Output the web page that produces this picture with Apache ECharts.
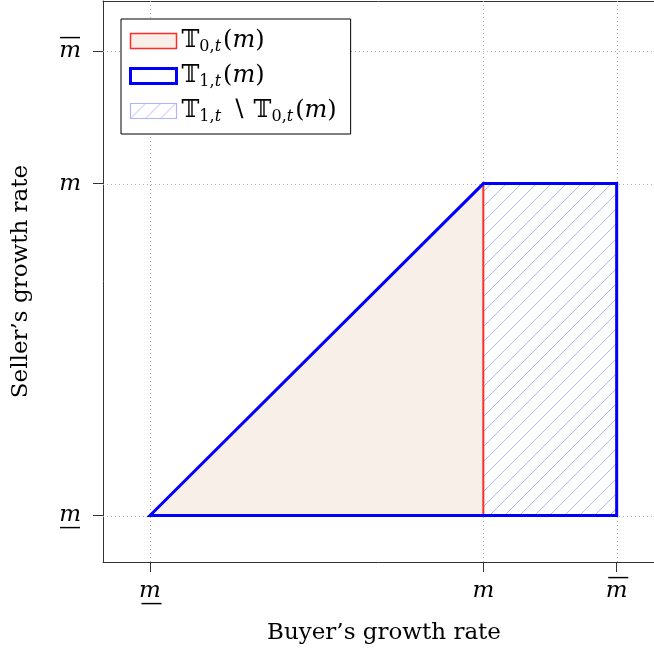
<!DOCTYPE html>
<html><head><meta charset="utf-8">
<script src="https://cdn.jsdelivr.net/npm/echarts@6/dist/echarts.min.js"></script>
<style>html,body{margin:0;padding:0;background:#fff}#c{width:654px;height:653px}</style>
</head><body><div id="c"></div>
<script>
// ---- data ----
const tickValues = [0, 1, 1.4];
const tickLabels = ['m', 'm', 'm'];
const tickMarks = ['under', 'none', 'over'];
const t0Points = [[0, 0], [1, 1], [1, 0]];
const t1Points = [[0, 0], [1, 1], [1.4, 1], [1.4, 0]];
const diffPoints = [[1, 0], [1.4, 0], [1.4, 1], [1, 1]];
const xName = 'Buyer\u2019s growth rate';
const yName = 'Seller\u2019s growth rate';

// hatch pattern
const pc = document.createElement('canvas');
pc.width = 15; pc.height = 15;
const g = pc.getContext('2d');
g.strokeStyle = '#b2b6ff'; g.lineWidth = 1;
g.beginPath();
g.moveTo(-1, 16); g.lineTo(16, -1);
g.stroke();
const hatch = { image: pc, repeat: 'repeat' };

const nameFont = '"DejaVu Serif", "Liberation Serif", serif';
const mathFont = '"DejaVu Serif", "DejaVu Sans", serif';

function polySeries(name, pts, style, z) {
  return {
    type: 'custom', name: name, z: z,
    data: pts, silent: true,
    itemStyle: { color: style.fill === 'none' ? 'rgba(0,0,0,0)' : style.fill, borderColor: style.stroke, borderWidth: style.lineWidth },
    renderItem: function (params, api) {
      if (params.dataIndex !== 0) return null;
      const p = pts.map(d => api.coord(d));
      return { type: 'polygon', shape: { points: p }, style: Object.assign({}, style, { lineJoin: 'miter' }) };
    }
  };
}

function gridSeries(vertical) {
  return {
    type: 'custom', z: 1, silent: true,
    data: tickValues.map(v => vertical ? [v, 0] : [0, v]),
    renderItem: function (params, api) {
      const cs = params.coordSys;
      const pt = api.coord([api.value(0), api.value(1)]);
      const x = Math.round(pt[0]) + 0.5, y = Math.round(pt[1]) + 0.5;
      const shape = vertical
        ? { x1: x, y1: cs.y, x2: x, y2: cs.y + cs.height }
        : { x1: cs.x, y1: y, x2: cs.x + cs.width, y2: y };
      return { type: 'line', shape: shape, style: { stroke: '#b0b0b0', lineWidth: 1, lineDash: [1, 3] } };
    }
  };
}

const labelRich = {
  m: { fontFamily: mathFont, fontStyle: 'italic', fontSize: 23, color: '#000', lineHeight: 20 },
  bar: { fontFamily: mathFont, fontSize: 22, color: '#000', lineHeight: 6, padding: [0, 0, 0, 3] },
  sp: { fontSize: 6, lineHeight: 6 }
};
function tickFormatter(v) {
  const i = tickValues.indexOf(v);
  const m = '{m|' + tickLabels[i] + '}';
  if (tickMarks[i] === 'over') return '{bar|\u2014}\n' + m + '\n{sp| }';
  if (tickMarks[i] === 'under') return '{sp| }\n' + m + '\n{bar|\u2014}';
  return '{sp| }\n' + m + '\n{sp| }';
}

const legendRich = {
  T: { fontFamily: mathFont, fontSize: 24, color: '#000', lineHeight: 28 },
  s: { fontFamily: mathFont, fontSize: 16, color: '#000', verticalAlign: 'bottom', lineHeight: 18 },
  st: { fontFamily: mathFont, fontStyle: 'italic', fontSize: 16, color: '#000', verticalAlign: 'bottom', lineHeight: 18, padding: [0, 2, 0, 0] },
  n: { fontFamily: mathFont, fontSize: 24, color: '#000', lineHeight: 28 },
  i: { fontFamily: mathFont, fontStyle: 'italic', fontSize: 24, color: '#000', lineHeight: 28 }
};
const legendText = {
  T0: '{T|\uD835\uDD4B}{s|0,}{st|t}{n|(}{i|m}{n|)}',
  T1: '{T|\uD835\uDD4B}{s|1,}{st|t}{n|(}{i|m}{n|)}',
  T1m0: '{T|\uD835\uDD4B}{s|1,}{st|t}{n| \u2216 }{T|\uD835\uDD4B}{s|0,}{st|t}{n|(}{i|m}{n|)}'
};

const chart = echarts.init(document.getElementById('c'), null, { renderer: 'canvas' });
chart.setOption({
  animation: false,
  backgroundColor: '#fff',
  grid: { left: 103, top: 1, width: 552, height: 561, show: false },
  xAxis: [{
    type: 'value', min: -0.141, max: 1.512,
    name: xName, nameLocation: 'middle', nameGap: 60,
    nameTextStyle: { fontFamily: nameFont, fontSize: 23, color: '#000', padding: [0, 0, 0, 11] },
    axisLine: { show: true, onZero: false, lineStyle: { color: '#333', width: 1 } },
    axisTick: { show: true, customValues: tickValues, length: 10, lineStyle: { color: '#333' } },
    axisLabel: { customValues: tickValues, margin: 13, formatter: tickFormatter, rich: labelRich },
    splitLine: { show: false }
  }, {
    type: 'value', position: 'top', min: -0.141, max: 1.512,
    axisLine: { show: true, onZero: false, lineStyle: { color: '#333', width: 1 } },
    axisTick: { show: false }, axisLabel: { show: false }, splitLine: { show: false }
  }],
  yAxis: {
    type: 'value', min: -0.14, max: 1.55,
    name: yName, nameLocation: 'middle', nameGap: 70,
    nameTextStyle: { fontFamily: nameFont, fontSize: 23, color: '#000' },
    axisLine: { show: true, onZero: false, lineStyle: { color: '#333', width: 1 } },
    axisTick: { show: true, customValues: tickValues, length: 10, lineStyle: { color: '#333' } },
    axisLabel: { customValues: tickValues, margin: 22, formatter: tickFormatter, rich: labelRich },
    splitLine: { show: false }
  },
  legend: {
    orient: 'vertical', left: 121, top: 19,
    backgroundColor: '#fff', borderColor: '#000', borderWidth: 1, borderRadius: 0,
    padding: [8, 14, 9, 8], itemGap: 7, itemWidth: 46, itemHeight: 15, icon: 'rect',
    selectedMode: false, z: 10,
    data: [
      { name: 'T0', itemStyle: { color: '#f8efe9', borderColor: '#ff2a2a', borderWidth: 1.5 } },
      { name: 'T1', itemStyle: { color: 'rgba(255,255,255,0)', borderColor: '#0000ff', borderWidth: 3 } },
      { name: 'T1m0', itemStyle: { color: hatch, borderColor: '#b0b4ff', borderWidth: 1.2 } }
    ],
    formatter: n => legendText[n],
    textStyle: { rich: legendRich, lineHeight: 28 }
  },
  series: [
    gridSeries(true),
    gridSeries(false),
    polySeries('T1m0', diffPoints, { fill: hatch, stroke: 'none', lineWidth: 0 }, 3),
    polySeries('T0', t0Points, { fill: '#f8efe9', stroke: '#ff2a2a', lineWidth: 2 }, 4),
    polySeries('T1', t1Points, { fill: 'none', stroke: '#0000ff', lineWidth: 3 }, 5)
  ]
});
</script></body></html>
